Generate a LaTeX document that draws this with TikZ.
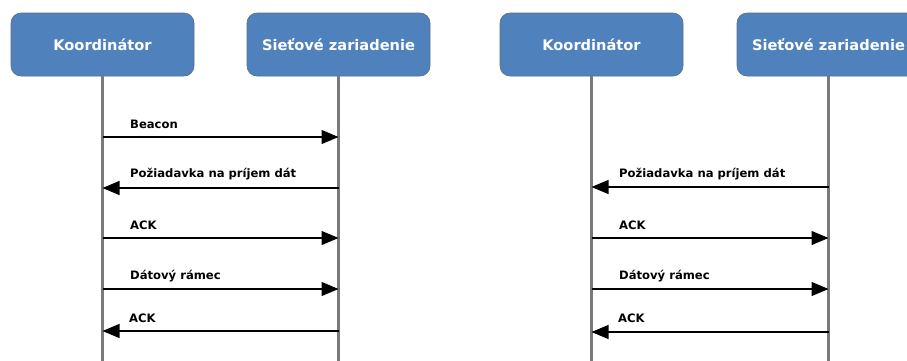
\documentclass[tikz,border=0pt]{standalone}
\usepackage{fontspec}
\setmainfont{DejaVu Sans}
\usetikzlibrary{arrows.meta}
\definecolor{boxblue}{HTML}{4F81BD}
\definecolor{boxedge}{HTML}{5A6E88}
\definecolor{lifegray}{HTML}{7A7A7A}
\tikzset{
  party/.style={draw=boxedge, line width=0.6pt, fill=boxblue, rounded corners=10pt,
    minimum width=183pt, minimum height=63pt, inner sep=0pt,
    text=white, font=\fontsize{14.6}{16}\selectfont\bfseries},
  lifeline/.style={draw=lifegray, line width=2.2pt},
  msg/.style={draw=black, line width=1.2pt, -{Triangle[length=17pt,width=14pt]}},
  msglabel/.style={anchor=west, inner sep=0pt, font=\fontsize{11.6}{13}\selectfont\bfseries}
}
\begin{document}
\begin{tikzpicture}[x=1pt,y=-1pt]
  \useasboundingbox (0,0) rectangle (907,360);
  \clip (0,0) rectangle (907,360);

  % participants
  \node[party] (k1) at (102.5,44.5) {Koordinátor};
  \node[party] (s1) at (338.5,44.5) {Sieťové zariadenie};
  \node[party] (k2) at (591.5,44.5) {Koordinátor};
  \node[party] (s2) at (828.5,44.5) {Sieťové zariadenie};

  % lifeline ends
  \coordinate (k1e) at (k1.south |- 0,362);
  \coordinate (s1e) at (s1.south |- 0,362);
  \coordinate (k2e) at (k2.south |- 0,362);
  \coordinate (s2e) at (s2.south |- 0,362);
  \draw[lifeline] (k1.south) -- (k1e);
  \draw[lifeline] (s1.south) -- (s1e);
  \draw[lifeline] (k2.south) -- (k2e);
  \draw[lifeline] (s2.south) -- (s2e);

  % left exchange
  \draw[msg] (k1.south |- 0,137) -- (s1.south |- 0,137);
  \node[msglabel] (l1) at (130,124) {Beacon};
  \draw[msg] (s1.south |- 0,188) -- (k1.south |- 0,188);
  \node[msglabel] (l2) at (130,174) {Požiadavka na príjem dát};
  \draw[msg] (k1.south |- 0,238) -- (s1.south |- 0,238);
  \node[msglabel] (l3) at (130,225) {ACK};
  \draw[msg] (k1.south |- 0,289) -- (s1.south |- 0,289);
  \node[msglabel] (l4) at (130,276) {Dátový rámec};
  \draw[msg] (s1.south |- 0,331) -- (k1.south |- 0,331);
  \node[msglabel] (l5) at (129,318) {ACK};

  % right exchange
  \draw[msg] (s2.south |- 0,187) -- (k2.south |- 0,187);
  \node[msglabel] (r2) at (619,174) {Požiadavka na príjem dát};
  \draw[msg] (k2.south |- 0,238) -- (s2.south |- 0,238);
  \node[msglabel] (r3) at (619,225) {ACK};
  \draw[msg] (k2.south |- 0,289) -- (s2.south |- 0,289);
  \node[msglabel] (r4) at (619,276) {Dátový rámec};
  \draw[msg] (s2.south |- 0,332) -- (k2.south |- 0,332);
  \node[msglabel] (r5) at (618,318) {ACK};
\end{tikzpicture}
\end{document}
